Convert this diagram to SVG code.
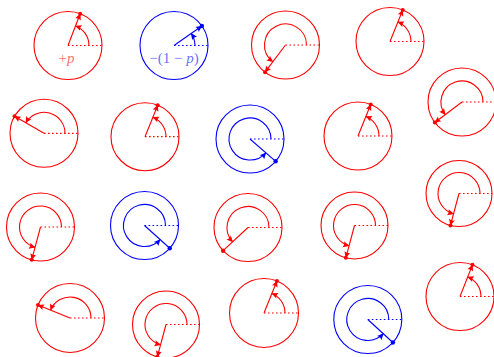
<svg xmlns="http://www.w3.org/2000/svg" width="494" height="357" viewBox="0 0 494 357">
<style>
.r{stroke:#ff0000;fill:none;stroke-width:1.1}
.b{stroke:#0000ff;fill:none;stroke-width:1.1}
.rd{stroke:#ff0000;stroke-width:1.2;stroke-dasharray:1.6 2.4}
.bd{stroke:#0000ff;stroke-width:1.2;stroke-dasharray:1.6 2.4}
.ra{marker-end:url(#ar)}
.ba{marker-end:url(#ab)}
.rp{fill:#ff0000}
.bp{fill:#0000ff}
.lbl{font-family:"Liberation Serif","DejaVu Serif",serif;font-size:15px;text-anchor:middle}
</style>
<defs>
<marker id="ar" viewBox="-7 -3.5 8 7" refX="0" refY="0" markerWidth="8" markerHeight="7" markerUnits="userSpaceOnUse" orient="auto"><path d="M0.5,0 L-6,-3 Q-4.2,0 -6,3 Z" fill="#ff0000"/></marker>
<marker id="ab" viewBox="-7 -3.5 8 7" refX="0" refY="0" markerWidth="8" markerHeight="7" markerUnits="userSpaceOnUse" orient="auto"><path d="M0.5,0 L-6,-3 Q-4.2,0 -6,3 Z" fill="#0000ff"/></marker>
</defs>

<g id="nA">
<circle class="r" cx="68" cy="45.5" r="34"/>
<line class="rd" x1="68" y1="45.5" x2="102" y2="45.5"/>
<path class="r ra" d="M89,45.5 A21,21 0 0 0 75.53,25.89"/>
<line class="r ra" x1="68" y1="45.5" x2="80.19" y2="13.76"/>
<circle class="rp" cx="80.19" cy="13.76" r="2"/>
<text class="lbl" x="66.5" y="63" fill="#ff0000" fill-opacity="0.6">+<tspan font-style="italic">p</tspan></text>
</g>

<g id="nB">
<circle class="b" cx="174" cy="45.5" r="34"/>
<line class="bd" x1="174" y1="45.5" x2="208" y2="45.5"/>
<path class="b ba" d="M195,45.5 A21,21 0 0 0 191.2,33.45"/>
<line class="b ba" x1="174" y1="45.5" x2="201.85" y2="26"/>
<circle class="bp" cx="201.85" cy="26" r="2.2"/>
<text class="lbl" x="174" y="63" fill="#0000ff" fill-opacity="0.6">−(1 − <tspan font-style="italic">p</tspan>)</text>
</g>

<g id="nC">
<circle class="r" cx="285.5" cy="45" r="34"/>
<line class="rd" x1="285.5" y1="45" x2="319.5" y2="45"/>
<path class="r ra" d="M306.5,45 A21,21 0 1 0 272.86,61.77"/>
<line class="r ra" x1="285.5" y1="45" x2="265.04" y2="72.15"/>
<circle class="rp" cx="265.04" cy="72.15" r="2"/>
</g>

<g id="nD">
<circle class="r" cx="390" cy="41.5" r="34"/>
<line class="rd" x1="390" y1="41.5" x2="424" y2="41.5"/>
<path class="r ra" d="M411,41.5 A21,21 0 0 0 397.87,22.03"/>
<line class="r ra" x1="390" y1="41.5" x2="402.74" y2="9.98"/>
<circle class="rp" cx="402.74" cy="9.98" r="2"/>
</g>

<g id="nE">
<circle class="r" cx="462" cy="102" r="34"/>
<line class="rd" x1="462" y1="102" x2="496" y2="102"/>
<path class="r ra" d="M483,102 A21,21 0 1 0 445.23,114.64"/>
<line class="r ra" x1="462" y1="102" x2="434.85" y2="122.46"/>
<circle class="rp" cx="434.85" cy="122.46" r="2"/>
</g>

<g id="nF">
<circle class="r" cx="44" cy="133.3" r="34"/>
<line class="rd" x1="44" y1="133.3" x2="78" y2="133.3"/>
<path class="r ra" d="M65,133.3 A21,21 0 0 0 25.81,122.8"/>
<line class="r ra" x1="44" y1="133.3" x2="14.56" y2="116.3"/>
<circle class="rp" cx="14.56" cy="116.3" r="2"/>
</g>

<g id="nG">
<circle class="r" cx="145" cy="136.7" r="34"/>
<line class="rd" x1="145" y1="136.7" x2="179" y2="136.7"/>
<path class="r ra" d="M166,136.7 A21,21 0 0 0 152.87,117.23"/>
<line class="r ra" x1="145" y1="136.7" x2="157.74" y2="105.17"/>
<circle class="rp" cx="157.74" cy="105.17" r="2"/>
</g>

<g id="nH">
<circle class="b" cx="250" cy="139" r="34"/>
<line class="bd" x1="250" y1="139" x2="284" y2="139"/>
<path class="b ba" d="M271,139 A21,21 0 1 0 265.85,152.78"/>
<line class="b" x1="250" y1="139" x2="275.66" y2="161.31"/>
<circle class="bp" cx="275.66" cy="161.31" r="2.2"/>
</g>

<g id="nI">
<circle class="r" cx="358" cy="136" r="34"/>
<line class="rd" x1="358" y1="136" x2="392" y2="136"/>
<path class="r ra" d="M379,136 A21,21 0 0 0 365.87,116.53"/>
<line class="r ra" x1="358" y1="136" x2="370.74" y2="104.48"/>
<circle class="rp" cx="370.74" cy="104.48" r="2"/>
</g>

<g id="nJ">
<circle class="r" cx="40.5" cy="227" r="34"/>
<line class="rd" x1="40.5" y1="227" x2="74.5" y2="227"/>
<path class="r ra" d="M61.5,227 A21,21 0 1 0 35.07,247.28"/>
<line class="r ra" x1="40.5" y1="227" x2="31.7" y2="259.84"/>
<circle class="rp" cx="31.7" cy="259.84" r="2"/>
</g>

<g id="nK">
<circle class="b" cx="144.5" cy="225.5" r="34"/>
<line class="bd" x1="144.5" y1="225.5" x2="178.5" y2="225.5"/>
<path class="b ba" d="M165.5,225.5 A21,21 0 1 0 160.11,239.55"/>
<line class="b" x1="144.5" y1="225.5" x2="169.77" y2="248.25"/>
<circle class="bp" cx="169.77" cy="248.25" r="2.2"/>
</g>

<g id="nL">
<circle class="r" cx="248" cy="227.5" r="34"/>
<line class="rd" x1="248" y1="227.5" x2="282" y2="227.5"/>
<path class="r ra" d="M269,227.5 A21,21 0 1 0 232.64,241.82"/>
<line class="r" x1="248" y1="227.5" x2="223.13" y2="250.69"/>
<circle class="rp" cx="223.13" cy="250.69" r="2.2"/>
</g>

<g id="nM">
<circle class="r" cx="354.5" cy="225.5" r="33.5"/>
<line class="rd" x1="354.5" y1="225.5" x2="388" y2="225.5"/>
<path class="r ra" d="M375.5,225.5 A21,21 0 1 0 349.07,245.78"/>
<line class="r ra" x1="354.5" y1="225.5" x2="345.83" y2="257.86"/>
<circle class="rp" cx="345.83" cy="257.86" r="2"/>
</g>

<g id="nN">
<circle class="r" cx="459" cy="193.5" r="33"/>
<line class="rd" x1="459" y1="193.5" x2="492" y2="193.5"/>
<path class="r ra" d="M480,193.5 A21,21 0 1 0 453.57,213.78"/>
<line class="r ra" x1="459" y1="193.5" x2="450.46" y2="225.38"/>
<circle class="rp" cx="450.46" cy="225.38" r="2"/>
</g>

<g id="nO">
<circle class="r" cx="70" cy="318" r="34.5"/>
<line class="rd" x1="70" y1="318" x2="104.5" y2="318"/>
<path class="r ra" d="M91,318 A21,21 0 0 0 50.53,310.13"/>
<line class="r ra" x1="70" y1="318" x2="38.01" y2="305.08"/>
<circle class="rp" cx="38.01" cy="305.08" r="2"/>
</g>

<g id="nP">
<circle class="r" cx="166" cy="324.5" r="33.5"/>
<line class="rd" x1="166" y1="324.5" x2="199.5" y2="324.5"/>
<path class="r ra" d="M187,324.5 A21,21 0 1 0 160.57,344.78"/>
<line class="r ra" x1="166" y1="324.5" x2="157.33" y2="356.86"/>
<circle class="rp" cx="157.33" cy="356.86" r="2"/>
</g>

<g id="nQ">
<circle class="r" cx="264" cy="313" r="34.5"/>
<line class="rd" x1="264" y1="313" x2="298.5" y2="313"/>
<path class="r ra" d="M285,313 A21,21 0 0 0 271.87,293.53"/>
<line class="r ra" x1="264" y1="313" x2="276.92" y2="281.01"/>
<circle class="rp" cx="276.92" cy="281.01" r="2"/>
</g>

<g id="nR">
<circle class="b" cx="367.8" cy="319.5" r="34"/>
<line class="bd" x1="367.8" y1="319.5" x2="401.8" y2="319.5"/>
<path class="b ba" d="M388.8,319.5 A21,21 0 1 0 383.28,333.69"/>
<line class="b" x1="367.8" y1="319.5" x2="392.87" y2="342.47"/>
<circle class="bp" cx="392.87" cy="342.47" r="2.2"/>
</g>

<g id="nS">
<circle class="r" cx="460" cy="296.5" r="34"/>
<line class="rd" x1="460" y1="296.5" x2="494" y2="296.5"/>
<path class="r ra" d="M481,296.5 A21,21 0 0 0 467.7,276.96"/>
<line class="r ra" x1="460" y1="296.5" x2="472.46" y2="264.87"/>
<circle class="rp" cx="472.46" cy="264.87" r="2"/>
</g>
<g id="connectors"/>
</svg>
